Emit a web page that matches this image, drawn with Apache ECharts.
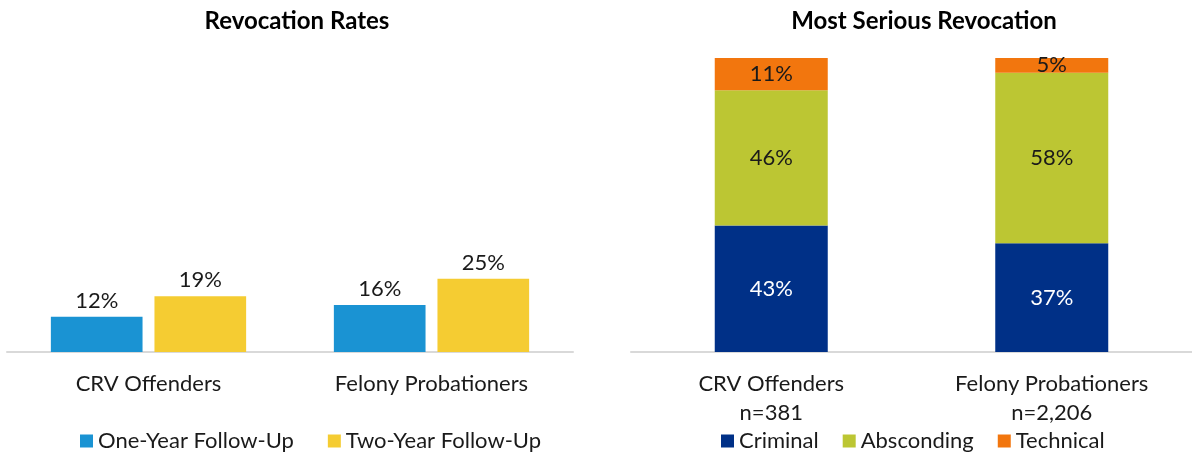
<!DOCTYPE html>
<html>
<head>
<meta charset="utf-8">
<script src="https://cdn.jsdelivr.net/npm/echarts@6/dist/echarts.min.js"></script>
<style>
  html, body { margin: 0; padding: 0; background: #fff; }
  #chart { width: 1192px; height: 455px; }
</style>
</head>
<body>
<div id="chart"></div>
<script>
// Groups compared in both panels
const categories = ['CRV Offenders', 'Felony Probationers'];
const sampleSizes = ['n=381', 'n=2,206'];

// Left panel: revocation rates (%)
const oneYearRates = [12, 16];
const twoYearRates = [19, 25];

// Right panel: most serious revocation type (% of revocations)
const criminal = [43, 37];
const absconding = [46, 58];
const technical = [11, 5];

const FONT = 'Lato, "Open Sans", sans-serif';
const TEXT = '#1a1a1a';
const AXIS_GRAY = '#d9d9d9';
const FS = 22;

const chart = echarts.init(document.getElementById('chart'));

const valueLabelTop = {
  show: true, position: 'top', distance: 5,
  formatter: '{c}%', fontSize: FS, color: TEXT, fontFamily: FONT
};
const valueLabelInside = (color) => ({
  show: true, position: 'inside',
  formatter: '{c}%', fontSize: FS, color: color, fontFamily: FONT
});

chart.setOption({
  animation: false,
  textStyle: { fontFamily: FONT },
  title: [
    { text: 'Revocation Rates', left: 292, top: 4, textAlign: 'center',
      textStyle: { fontSize: 24, fontWeight: 'bold', color: '#000', fontFamily: FONT } },
    { text: 'Most Serious Revocation', left: 919, top: 4, textAlign: 'center',
      textStyle: { fontSize: 24, fontWeight: 'bold', color: '#000', fontFamily: FONT } }
  ],
  legend: [
    { data: ['One-Year Follow-Up', 'Two-Year Follow-Up'], left: 75, top: 425,
      icon: 'rect', itemWidth: 13, itemHeight: 13, itemGap: 34,
      textStyle: { fontSize: FS, color: TEXT, fontFamily: FONT } },
    { data: ['Criminal', 'Absconding', 'Technical'], left: 716, top: 425,
      icon: 'rect', itemWidth: 13, itemHeight: 13, itemGap: 24,
      textStyle: { fontSize: FS, color: TEXT, fontFamily: FONT } }
  ],
  grid: [
    { left: 7, width: 566, top: 59, bottom: 103 },
    { left: 631, width: 566, top: 58, bottom: 103 }
  ],
  xAxis: [
    { type: 'category', gridIndex: 0, data: categories,
      axisLine: { lineStyle: { color: AXIS_GRAY, width: 2 } },
      axisTick: { show: false },
      axisLabel: { fontSize: FS, color: TEXT, margin: 17, lineHeight: 29, fontFamily: FONT } },
    { type: 'category', gridIndex: 1, data: categories,
      axisLine: { lineStyle: { color: AXIS_GRAY, width: 2 } },
      axisTick: { show: false },
      axisLabel: { fontSize: FS, color: TEXT, margin: 17, lineHeight: 29, fontFamily: FONT,
        formatter: (v, i) => v + '\n' + sampleSizes[i] } }
  ],
  yAxis: [
    { type: 'value', gridIndex: 0, min: 0, max: 100, show: false },
    { type: 'value', gridIndex: 1, min: 0, max: 100, show: false }
  ],
  series: [
    { name: 'One-Year Follow-Up', type: 'bar', xAxisIndex: 0, yAxisIndex: 0,
      data: oneYearRates, barCategoryGap: '31%', barGap: '13%',
      itemStyle: { color: '#1a93d3' }, label: valueLabelTop },
    { name: 'Two-Year Follow-Up', type: 'bar', xAxisIndex: 0, yAxisIndex: 0,
      data: twoYearRates, barCategoryGap: '31%', barGap: '13%',
      itemStyle: { color: '#f5cc32' }, label: valueLabelTop },
    { name: 'Criminal', type: 'bar', stack: 'type', xAxisIndex: 1, yAxisIndex: 1,
      data: criminal, barWidth: 113,
      itemStyle: { color: '#003087' }, label: valueLabelInside('#ffffff') },
    { name: 'Absconding', type: 'bar', stack: 'type', xAxisIndex: 1, yAxisIndex: 1,
      data: absconding, barWidth: 113,
      itemStyle: { color: '#bcc633' }, label: valueLabelInside(TEXT) },
    { name: 'Technical', type: 'bar', stack: 'type', xAxisIndex: 1, yAxisIndex: 1,
      data: technical, barWidth: 113,
      itemStyle: { color: '#f2760e' }, label: valueLabelInside(TEXT) }
  ]
});
</script>
</body>
</html>
